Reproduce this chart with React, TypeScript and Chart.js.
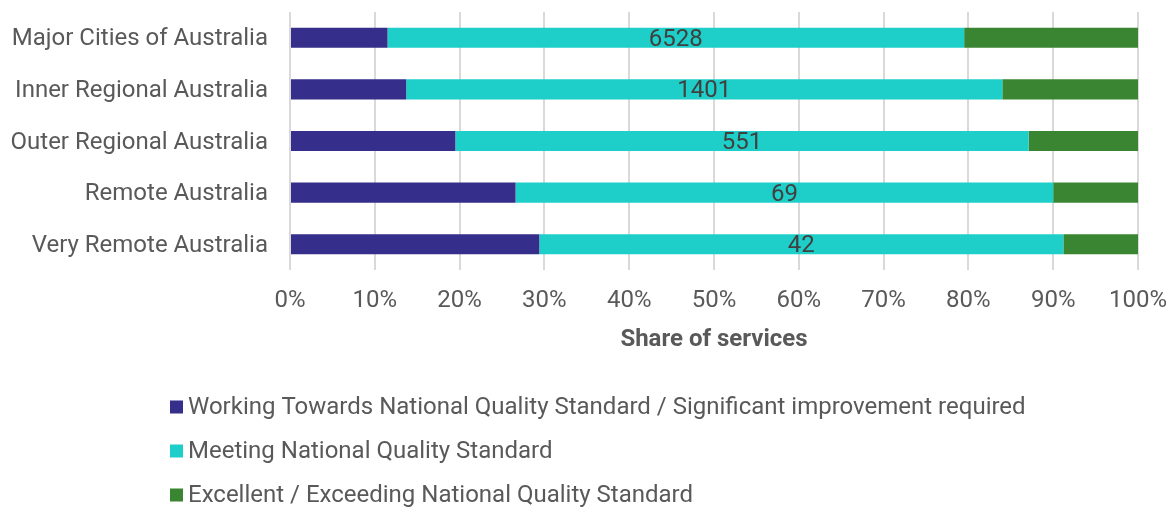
import React, { useEffect, useRef } from "react";
import { Chart, registerables } from "chart.js";

Chart.register(...registerables);

const categories = [
  "Major Cities of Australia",
  "Inner Regional Australia",
  "Outer Regional Australia",
  "Remote Australia",
  "Very Remote Australia",
];
const seriesNames = [
  "Working Towards National Quality Standard / Significant improvement required",
  "Meeting National Quality Standard",
  "Excellent / Exceeding National Quality Standard",
];
const workingTowards = [11.5, 13.7, 19.5, 26.6, 29.4];
const meeting = [68.0, 70.3, 67.6, 63.4, 61.8];
const exceeding = [20.5, 16.0, 12.9, 10.0, 8.8];
const meetingLabels = ["6528", "1401", "551", "69", "42"];
const xTicks = [0, 10, 20, 30, 40, 50, 60, 70, 80, 90, 100];
const colors = ["#352E8A", "#1ECFC9", "#3A8531"];

const FONT = "Roboto";
const TEXT = "#595959";
const SIZE = 24;

const dataLabelPlugin = {
  id: "meetingLabels",
  afterDatasetsDraw(chart: any) {
    const ctx = chart.ctx;
    const meta = chart.getDatasetMeta(1);
    ctx.save();
    ctx.font = `${SIZE}px ${FONT}`;
    ctx.fillStyle = "#404040";
    ctx.textAlign = "center";
    ctx.textBaseline = "middle";
    meta.data.forEach((el: any, i: number) => {
      const x = (el.x + el.base) / 2;
      ctx.fillText(meetingLabels[i], x, el.y + 2);
    });
    ctx.restore();
  },
};

const legendPlugin = {
  id: "stackLegend",
  afterDraw(chart: any) {
    const ctx = chart.ctx;
    ctx.save();
    ctx.font = `${SIZE}px ${FONT}`;
    ctx.textBaseline = "middle";
    ctx.textAlign = "left";
    const left = 170;
    const rows = [407, 451, 495];
    chart.data.datasets.forEach((ds: any, i: number) => {
      const y = rows[i];
      ctx.fillStyle = ds.backgroundColor;
      ctx.fillRect(left, y - 6.5, 13, 13);
      ctx.fillStyle = TEXT;
      ctx.fillText(ds.label, left + 18, y + 1);
    });
    ctx.restore();
  },
};

export default function App() {
  const ref = useRef<HTMLCanvasElement | null>(null);
  useEffect(() => {
    if (!ref.current) return;
    const data = [workingTowards, meeting, exceeding];
    const chart = new Chart(ref.current, {
      type: "bar",
      data: {
        labels: categories,
        datasets: seriesNames.map((name, i) => ({
          label: name,
          data: data[i],
          backgroundColor: colors[i],
          borderWidth: 0,
          barPercentage: 0.39,
          categoryPercentage: 1,
        })),
      },
      options: {
        indexAxis: "y",
        animation: false,
        responsive: true,
        maintainAspectRatio: false,
        layout: { padding: { top: 12, right: 31, bottom: 152, left: 0 } },
        plugins: {
          legend: { display: false },
          tooltip: { enabled: false },
        },
        scales: {
          x: {
            stacked: true,
            min: 0,
            max: 100,
            afterBuildTicks(scale: any) {
              scale.ticks = xTicks.map((v) => ({ value: v }));
            },
            afterFit(scale: any) {
              scale.height = 85;
              scale.paddingLeft = 0;
              scale.paddingRight = 0;
            },
            grid: { color: "#d9d9d9", lineWidth: 2, drawTicks: false },
            border: { display: false },
            ticks: {
              padding: 17,
              color: TEXT,
              font: { family: FONT, size: SIZE },
              callback: (v: any) => `${v}%`,
            },
            title: {
              display: true,
              text: "Share of services",
              color: TEXT,
              font: { family: FONT, size: SIZE, weight: "bold" },
              padding: { top: 0, bottom: 1 },
            },
          },
          y: {
            stacked: true,
            afterFit(scale: any) {
              scale.width = 290;
              scale.paddingTop = 0;
              scale.paddingBottom = 0;
            },
            grid: { display: false, drawTicks: false },
            border: { display: false },
            ticks: {
              padding: 22,
              labelOffset: 1.5,
              color: TEXT,
              font: { family: FONT, size: SIZE },
            },
          },
        },
      },
      plugins: [dataLabelPlugin, legendPlugin],
    });
    return () => chart.destroy();
  }, []);
  return (
    <div style={{ position: "absolute", left: 0, top: 0, width: 1169, height: 507 }}>
      <canvas ref={ref} />
    </div>
  );
}
